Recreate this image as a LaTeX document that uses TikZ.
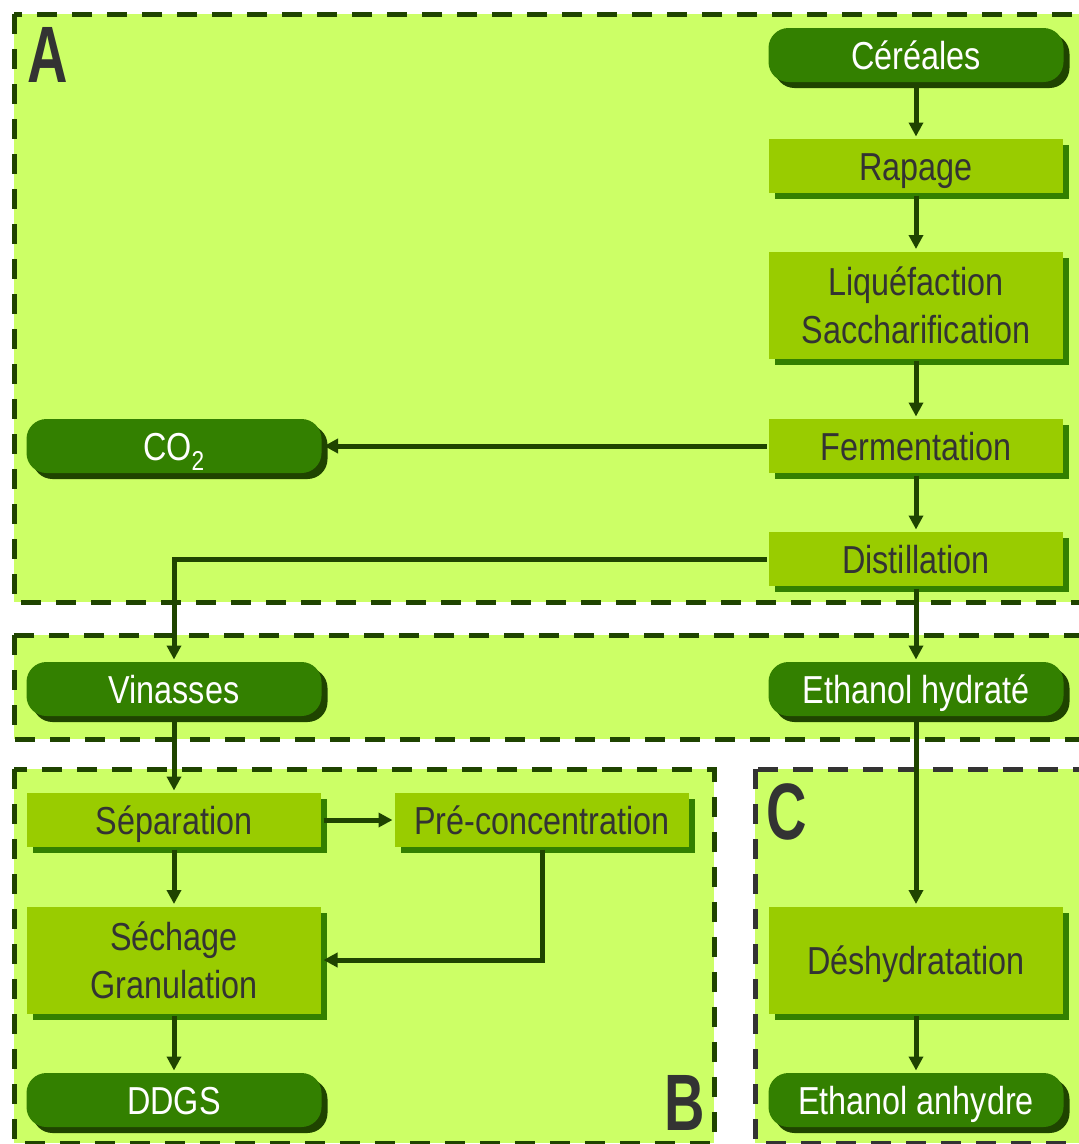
\documentclass[tikz,border=0pt]{standalone}
\usepackage{fontspec}
\setmainfont{Liberation Sans}[FakeStretch=0.83]
\newfontfamily\panelfont{Liberation Sans}[FakeStretch=0.7]
\usetikzlibrary{arrows.meta, shadows}
\definecolor{panelgreen}{HTML}{CCFF66}
\definecolor{boxgreen}{HTML}{99CC00}
\definecolor{darkgreen}{HTML}{338000}
\definecolor{deepgreen}{HTML}{1F4400}
\definecolor{inkgray}{HTML}{333333}

\begin{document}
\begin{tikzpicture}[x = 1pt, y = -1pt, % pixel units, y going down
                > = {Triangle[length = 14pt, width = 14pt]}, % arrow head style
                line width = 5pt % flow line width
            ]

            \tikzstyle{panel}=[fill = panelgreen, draw = deepgreen,
            dash pattern = on 20pt off 15pt]
            \tikzstyle{term}=[fill = darkgreen, rounded corners = 20pt,
            text = white, minimum width = 295pt, minimum height = 54pt,
            inner sep = 0pt, text height = 28pt, text depth = 0pt,
            font = \fontsize{39}{48}\selectfont,
            drop shadow = {shadow xshift = 6pt, shadow yshift = -6pt,
            fill = deepgreen, opacity = 1}]
            \tikzstyle{proc}=[fill = boxgreen, text = inkgray, align = center,
            minimum width = 294pt, minimum height = 54pt, inner sep = 0pt,
            font = \fontsize{39}{48}\selectfont,
            drop shadow = {shadow xshift = 6pt, shadow yshift = -6pt,
            fill = darkgreen, opacity = 1}]
            \tikzstyle{proc1}=[proc, text height = 28pt, text depth = 0pt]
            \tikzstyle{lbl}=[text = inkgray, inner sep = 0pt,
            font = \panelfont\bfseries\fontsize{80}{80}\selectfont]

            \useasboundingbox (0,0) rectangle (1079,1144);
            \clip (0,0) rectangle (1079,1144);

            % panels
            \path[panel] (14,14) rectangle (1110,602);
            \path[panel] (14,635) rectangle (1110,739);
            \path[panel] (14,769) rectangle (714,1143);
            \path[panel, draw = inkgray] (755,769) rectangle (1110,1143);

            \node[lbl] (a) at (48,55) {A}; \node[lbl] (b) at (685,1103) {B};
            \node[lbl] (c) at (787,812) {C};

            \node[term] (1) at (916,55) {Céréales}; \node[proc1] (2) at
            (916,166) {Rapage}; \node[proc, minimum height = 107pt] (3) at
            (916,305) {Liquéfaction\\Saccharification}; \node[proc1] (4) at
            (916,446) {Fermentation}; \node[proc1] (5) at (916,559)
            {Distillation}; \node[term] (6) at (174,446) {CO\textsubscript{2}};
            \node[term] (7) at (174,689) {Vinasses}; \node[term] (8) at
            (916,689) {Ethanol hydraté}; \node[proc1] (9) at (174,820)
            {Séparation}; \node[proc1] (10) at (542,820) {Pré-concentration};
            \node[proc, minimum height = 107pt] (11) at (174,960)
            {Séchage\\Granulation}; \node[term] (12) at (174,1100) {DDGS};
            \node[proc1, minimum height = 107pt] (13) at (916,960)
            {Déshydratation}; \node[term] (14) at (916,1100) {Ethanol anhydre};

            \path[->, deepgreen] (1) edge (2); \path[->, deepgreen] (2) edge
            (3); \path[->, deepgreen] (3) edge (4); \path[->, deepgreen] (4)
            edge (5); \path[->, deepgreen] (4) edge (6); \path[->, deepgreen]
            (5) edge (8); \path[->, deepgreen] (8) edge (13); \path[->,
            deepgreen] (13) edge (14); \path[->, deepgreen] (7) edge (9);
            \path[->, deepgreen] (9) edge (10); \path[->, deepgreen] (9) edge
            (11); \path[->, deepgreen] (11) edge (12);
            \draw[->, deepgreen] (5) -| (7); \draw[->, deepgreen] (10.south)
            |- (11.east);\end{tikzpicture}
\end{document}
